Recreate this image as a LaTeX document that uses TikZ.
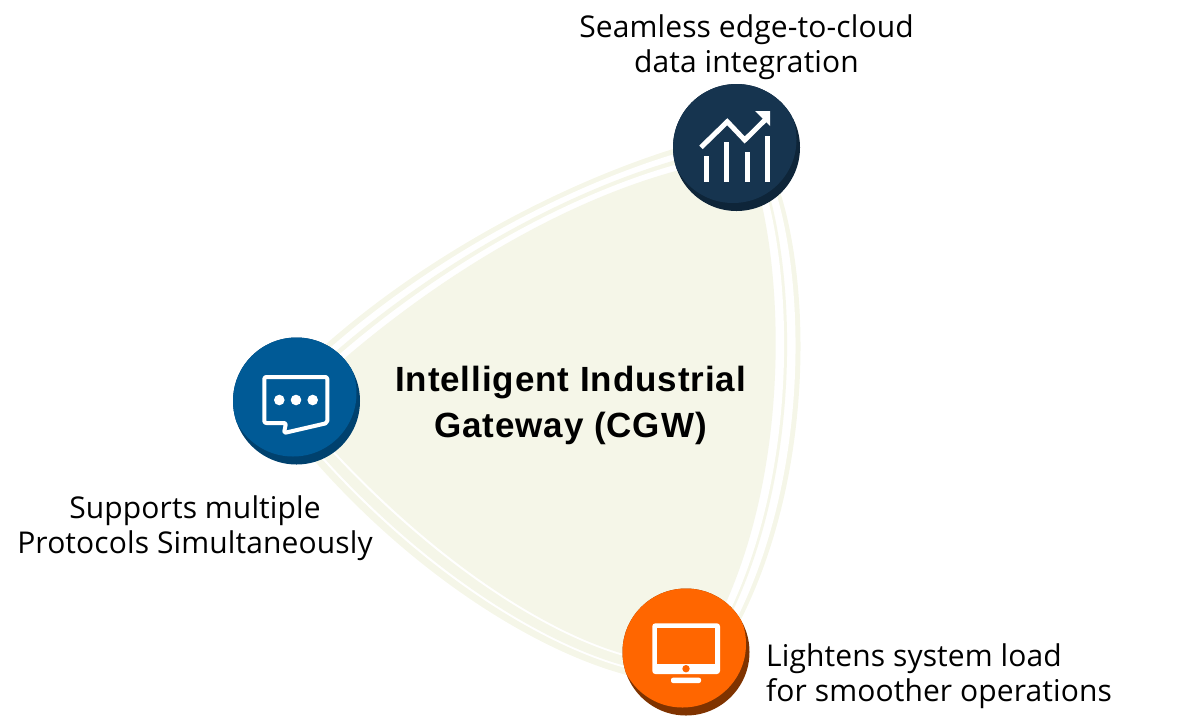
\documentclass[tikz,border=0pt]{standalone}
\usepackage{fontspec}
\setmainfont[LetterSpace=0.4]{Open Sans}
\newfontfamily\titlefont[LetterSpace=2.6]{Liberation Sans}
\usetikzlibrary{positioning,calc}

\definecolor{blobcol}{HTML}{F5F6E8}
\definecolor{navylight}{HTML}{16344F}
\definecolor{navydark}{HTML}{0E2539}
\definecolor{bluelight}{HTML}{005A96}
\definecolor{bluedark}{HTML}{00416E}
\definecolor{orangelight}{HTML}{FF6600}
\definecolor{orangedark}{HTML}{7F3300}

\tikzset{
    caption/.style={font=\fontsize{30}{35}\selectfont, align=center, text=black, inner sep=0pt},
    titletext/.style={font=\titlefont\bfseries\fontsize{35}{46}\selectfont, align=center, text=black, inner sep=0pt},
    iconline/.style={draw=white, line width=5pt},
}

% disc with the darker crescent at the lower right
\newcommand{\badge}[3]{
    \fill[#3] (#1) circle[radius=63.5];
    \begin{scope}
        \clip (#1) circle[radius=63.5];
        \fill[#2] ($(#1)+(-3.5,-8)$) circle[radius=63.5];
    \end{scope}
}

\begin{document}
\begin{tikzpicture}[x=1pt,y=-1pt]
    \useasboundingbox (0,0) rectangle (1202,724);

    % outer and inner edge of the three sides
    \coordinate (ta) at (300,368);  \coordinate (tb) at (410,262);  \coordinate (tc) at (566,178);  \coordinate (td) at (700,141);
    \coordinate (ua) at (320,380);  \coordinate (ub) at (430,280);  \coordinate (uc) at (570,194);  \coordinate (ud) at (700,165);
    \coordinate (ra) at (772,170);  \coordinate (rb) at (811,260);  \coordinate (rc) at (821,480);  \coordinate (rd) at (730,640);
    \coordinate (sa) at (752,170);  \coordinate (sb) at (784,260);  \coordinate (sc) at (795,480);  \coordinate (sd) at (710,635);
    \coordinate (la) at (650,680);  \coordinate (lb) at (560,665);  \coordinate (lc) at (420,585);  \coordinate (ld) at (305,450);
    \coordinate (ma) at (650,660);  \coordinate (mb) at (560,645);  \coordinate (mc) at (430,560);  \coordinate (md) at (315,430);

    \foreach \col/\p/\q/\r in {blobcol/0/0/0, white/.24/.2/.33, blobcol/.52/.54/.43, white/.72/.66/.9, blobcol/1/1/1} {
        \fill[\col] ($(ta)!\p!(ua)$) .. controls ($(tb)!\p!(ub)$) and ($(tc)!\p!(uc)$) .. ($(td)!\p!(ud)$)
            -- ($(ra)!\q!(sa)$) .. controls ($(rb)!\q!(sb)$) and ($(rc)!\q!(sc)$) .. ($(rd)!\q!(sd)$)
            -- ($(la)!\r!(ma)$) .. controls ($(lb)!\r!(mb)$) and ($(lc)!\r!(mc)$) .. ($(ld)!\r!(md)$) -- cycle;
    }

    \coordinate (navy) at (736.5,147.5);
    \coordinate (blue) at (296.5,401);
    \coordinate (orange) at (686,652);

    \badge{navy}{navylight}{navydark}
    \badge{blue}{bluelight}{bluedark}
    \badge{orange}{orangelight}{orangedark}

    % chart icon
    \fill[white] (704,156) rectangle (709,182);
    \fill[white] (724.3,142) rectangle (729.3,182);
    \fill[white] (744.7,152) rectangle (749.7,182);
    \fill[white] (765,136) rectangle (770,182);
    \draw[iconline] (701,147.3) -- (727.3,121.7) -- (744.7,140) -- (765,120);
    \fill[white] (755,111) -- (770,111) -- (770,126) -- cycle;

    % speech bubble icon
    \draw[iconline, line width=4pt, line join=round, rounded corners=2pt] (264.3,423) -- (264.3,377) -- (327.3,377) -- (327.3,423) -- (284,433) -- (286,423) -- cycle;
    \foreach \xx in {279.3,296,312.7}
        \fill[white] (\xx,400) circle[radius=5.3];

    % monitor icon
    \fill[white, rounded corners=3pt] (652.3,623.3) rectangle (720,674);
    \fill[orangelight] (657.3,628.3) rectangle (715,664);
    \fill[orangelight] (686,668.7) circle[radius=3.7];
    \fill[white, rounded corners=2pt] (671,677.7) rectangle (701,683);

    \node[caption] (cloudlabel) at (746.5,47) {Seamless edge-to-cloud\\data integration};
    \node[caption] (protolabel) at (195,528) {Supports multiple\\Protocols Simultaneously};
    \node[caption, align=left, anchor=west] (loadlabel) at (766,676) {Lightens system load\\for smoother operations};
    \node[titletext] (gatewaylabel) at (570.5,405) {Intelligent Industrial\\Gateway (CGW)};
\end{tikzpicture}
\end{document}
